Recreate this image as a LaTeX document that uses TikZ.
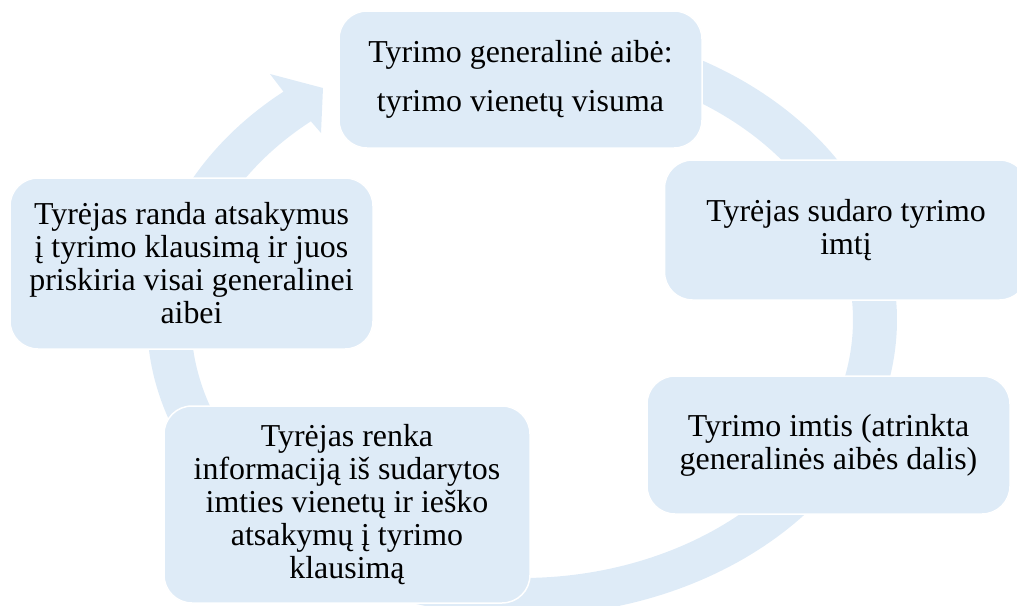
\documentclass[tikz,border=0pt]{standalone}
\usepackage{fontspec}
\setmainfont{Liberation Serif}
\definecolor{boxfill}{HTML}{DEEBF7}
\begin{document}
\begin{tikzpicture}[x=1pt,y=-1pt,
  cyclebox/.style={fill=boxfill,draw=white,line width=1.5pt,rounded corners=28pt,
    align=center,inner sep=0pt,font=\fontsize{31.9}{33}\selectfont,text=black}]
\useasboundingbox (0,0) rectangle (1017,605);
% ring with arrowhead
\fill[boxfill]
  plot[domain=-80:230.5,samples=240] ({522+375*cos(\x)},{320+296*sin(\x)})
  -- (270,74) -- (323,88) -- (321,133) -- (308,118)
  -- plot[domain=230.5:-80,samples=240] ({522+331*cos(\x)},{320+258*sin(\x)})
  -- cycle;
% boxes
\node[cyclebox,minimum width=363pt,minimum height=137pt] (t) at (520.5,79.5)
  {Tyrimo generalinė aibė:\\[16pt]tyrimo vienetų visuma};
\node[cyclebox,minimum width=363pt,minimum height=140pt] (r) at (846,230)
  {Tyrėjas sudaro tyrimo\\imtį};
\node[cyclebox,minimum width=363pt,minimum height=138pt] (br) at (828.5,445)
  {Tyrimo imtis (atrinkta\\generalinės aibės dalis)};
\node[cyclebox,minimum width=366pt,minimum height=197pt] (bl) at (347,504.5)
  {Tyrėjas renka\\informaciją iš sudarytos\\imties vienetų ir ieško\\atsakymų į tyrimo\\klausimą};
\node[cyclebox,minimum width=363pt,minimum height=171pt] (l) at (191.5,263.5)
  {Tyrėjas randa atsakymus\\į tyrimo klausimą ir juos\\priskiria visai generalinei\\aibei};
\end{tikzpicture}
\end{document}
